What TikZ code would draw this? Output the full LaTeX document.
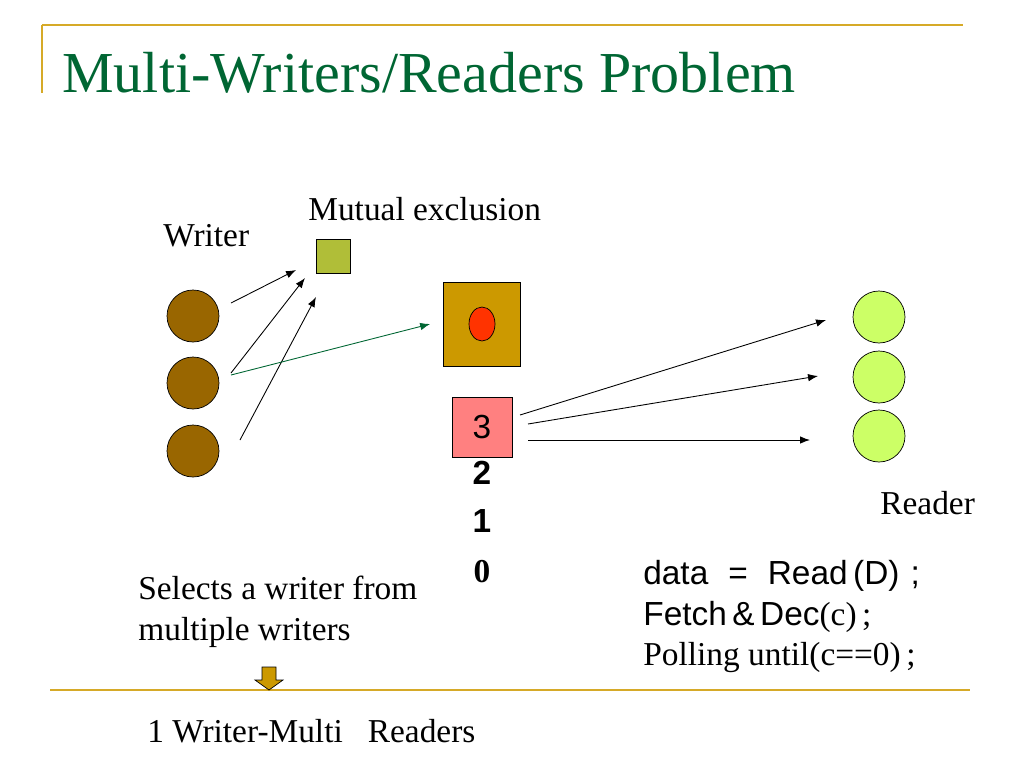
\documentclass[tikz,border=0pt]{standalone}
\usepackage{fontspec}
\setmainfont{Liberation Serif}
\setsansfont{Liberation Sans}
\usetikzlibrary{arrows.meta,positioning,shapes.geometric}
\definecolor{rulegold}{RGB}{214,170,40}
\definecolor{titlegreen}{RGB}{0,102,51}
\definecolor{writerbrown}{RGB}{153,102,0}
\definecolor{mutexgreen}{RGB}{176,190,56}
\definecolor{databox}{RGB}{204,153,0}
\definecolor{datared}{RGB}{255,51,0}
\definecolor{countpink}{RGB}{255,128,128}
\definecolor{readerlime}{RGB}{204,255,102}
\definecolor{arrowgreen}{RGB}{0,102,51}

\begin{document}
\begin{tikzpicture} [
    x=0.02cm, y=-0.02cm,
    lbl/.style={font=\fontsize{19}{22}\selectfont, inner sep=0},
    writer/.style={circle, draw, fill=writerbrown, minimum size=1.04cm, inner sep=0},
    reader/.style={circle, draw, fill=readerlime, minimum size=1.04cm, inner sep=0},
    cnt/.style={font=\fontsize{19}{22}\selectfont\sffamily\bfseries, inner sep=0},
    arr/.style={-{Latex[length=2mm,width=1.5mm]}, line width=0.5pt}
    ]
    \useasboundingbox (0,0) rectangle (1024,768);
    % frame lines
    \draw[rulegold, line width=1.5pt] (42,25) -- (963,25);
    \draw[rulegold, line width=1.5pt] (42,25) -- (42,93);
    \draw[rulegold, line width=1.5pt] (50,690) -- (970,690);
    \node[anchor=base west, inner sep=0, text=titlegreen, font=\fontsize{33}{38}\selectfont] (title) at (62,92) {Multi-Writers/Readers Problem};
    % writers
    \foreach \i/\y in {1/316,2/383,3/451}
        \node[writer] (w\i) at (193,\y) {};
    \node[lbl, anchor=base west] (wlbl) at (163,246) {Writer};
    % mutual exclusion
    \node[draw, fill=mutexgreen, minimum size=0.68cm, inner sep=0] (mutex) at (333,256) {};
    \node[lbl, anchor=base west] (mlbl) at (308,220) {Mutual exclusion};
    \coordinate (m1) at (296,270);
    \coordinate (m2) at (305,278);
    \coordinate (m3) at (316,297);
    \draw[arr] (231,303) -- (m1);
    \draw[arr] (231,373) -- (m2);
    \draw[arr] (240,440) -- (m3);
    % shared data
    \node[draw, fill=databox, minimum width=1.54cm, minimum height=1.68cm, inner sep=0] (data) at (482,324) {};
    \node[ellipse, draw, fill=datared, minimum width=0.52cm, minimum height=0.68cm, inner sep=0] (dot) at (data.center) {};
    \draw[arr, arrowgreen] (231,375) -- ([xshift=-13*0.02cm]data.west);
    % counter
    \node[draw, fill=countpink, minimum size=1.2cm, inner sep=0, font=\fontsize{19}{22}\selectfont\sffamily] (c3) at (482,427) {3};
    \node[cnt] (c2) at (482,473) {2};
    \node[cnt] (c1) at (482,521) {1};
    \node[lbl, font=\fontsize{19}{22}\selectfont\bfseries] (c0) at (482,572) {0};
    % readers
    \foreach \i/\y in {1/317,2/377,3/436}
        \node[reader] (r\i) at (879,\y) {};
    \node[lbl, anchor=base west] (rlbl) at (880,514) {Reader};
    \coordinate (t1) at (826,320);
    \coordinate (t2) at (818,376);
    \coordinate (t3) at (810,440);
    \draw[arr] (520,415) -- (t1);
    \draw[arr] (528,424) -- (t2);
    \draw[arr] (528,440) -- (t3);
    % reader code
    \node[lbl, anchor=base west, font=\fontsize{19}{22}\selectfont\sffamily] (code1) at (643,584) {data\hspace{0.6em}=\hspace{0.6em}Read\,(D)\,\,;};
    \node[lbl, anchor=base west] (code2) at (643,625) {\sffamily Fetch\,\&\,Dec\rmfamily(c)\,;};
    \node[lbl, anchor=base west] (code3) at (643,665) {Polling until(c==0)\,;};
    % writer selection
    \node[lbl, anchor=base west] (sel) at (138,599) {Selects a writer from};
    \node[lbl, anchor=base west] (sel2) at (138,640) {multiple writers};
    \draw[fill=databox, line width=0.4pt] (262,667) -- (276,667) -- (276,680) -- (283,680) -- (269,690) -- (255,680) -- (262,680) -- cycle;
    \node[lbl, anchor=base west] (res) at (147,742) {1 Writer-Multi\ \ \ Readers};
\end{tikzpicture}
\end{document}
